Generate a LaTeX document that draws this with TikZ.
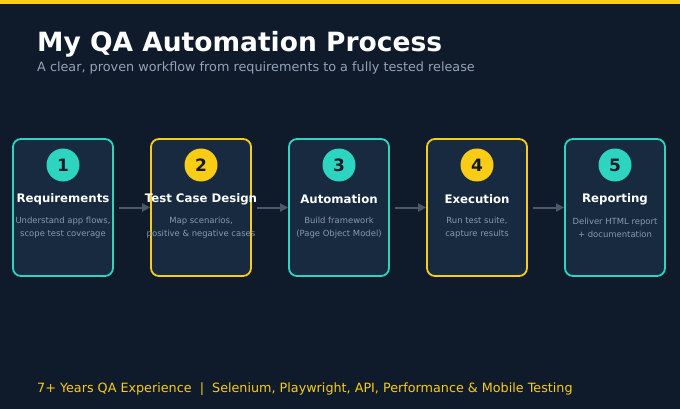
\documentclass[tikz,border=0pt]{standalone}
\usepackage{fontspec}
\setmainfont{DejaVu Sans}
\usepackage{tikz}
\usetikzlibrary{positioning,calc}
\usetikzlibrary{arrows.meta}
\definecolor{bgnavy}{HTML}{0F1B2B}
\definecolor{cardfill}{HTML}{172A40}
\definecolor{tealc}{HTML}{2DD4BF}
\definecolor{goldc}{HTML}{FACC15}
\definecolor{subgray}{HTML}{94A3B8}
\definecolor{descgray}{HTML}{8A9AAE}
\definecolor{arrgray}{HTML}{4B5A6B}
\definecolor{numdark}{HTML}{0F1B2B}
\tikzstyle{stepbox} = [rectangle, rounded corners=8pt, minimum width=100pt, minimum height=137pt, inner sep=0pt, fill=cardfill, line width=1.8pt]
\tikzstyle{badge} = [circle, minimum size=33pt, inner sep=0pt, text=numdark, font=\fontsize{17}{17}\selectfont\bfseries]
\tikzstyle{steptitle} = [text=white, font=\fontsize{11.75}{13}\selectfont\bfseries, inner sep=0pt]
\tikzstyle{stepdesc} = [text=descgray, align=center, font=\fontsize{8.45}{13}\selectfont, inner sep=0pt]
\tikzstyle{arrow} = [line width=2pt, draw=arrgray, -{Triangle[length=8pt,width=8pt]}]

\begin{document}
\begin{tikzpicture}[x=1pt,y=-1pt]
	\fill[bgnavy] (0,0) rectangle (680,409);
	\useasboundingbox (0,0) rectangle (680,409);
	\fill[goldc] (0,0) rectangle (680,4);
	\node[anchor=base west, inner sep=0pt, text=white, font=\fontsize{26.5}{30}\selectfont\bfseries] (title) at (37,52) {My QA Automation Process};
	\node[anchor=base west, inner sep=0pt, text=subgray, font=\fontsize{12.8}{15}\selectfont] (subtitle) at (37,72) {A clear, proven workflow from requirements to a fully tested release};
	% step cards
	\node (s1) at (63,207.5) [stepbox, draw=tealc] {};
	\node (s2) at (201,207.5) [stepbox, draw=goldc] {};
	\node (s3) at (339,207.5) [stepbox, draw=tealc] {};
	\node (s4) at (477,207.5) [stepbox, draw=goldc] {};
	\node (s5) at (615,207.5) [stepbox, draw=tealc] {};
	\node (n1) at (63,165) [badge, fill=tealc] {1};
	\node (n2) at (201,165) [badge, fill=goldc] {2};
	\node (n3) at (339,165) [badge, fill=tealc] {3};
	\node (n4) at (477,165) [badge, fill=goldc] {4};
	\node (n5) at (615,165) [badge, fill=tealc] {5};
	\draw[arrow] ([xshift=5pt]s1.east) -- (s2.west);
	\draw[arrow] ([xshift=5pt]s2.east) -- (s3.west);
	\draw[arrow] ([xshift=5pt]s3.east) -- (s4.west);
	\draw[arrow] ([xshift=5pt]s4.east) -- (s5.west);
	\node (t1) at (63,199) [steptitle] {Requirements};
	\node (t2) at (201,199) [steptitle] {Test Case Design};
	\node (t3) at (339,199) [steptitle] {Automation};
	\node (t4) at (477,199) [steptitle] {Execution};
	\node (t5) at (615,199) [steptitle] {Reporting};
	\node (d1) at (63,228) [stepdesc] {Understand app flows,\\scope test coverage};
	\node (d2) at (201,228) [stepdesc] {Map scenarios,\\positive \& negative cases};
	\node (d3) at (339,228) [stepdesc] {Build framework\\(Page Object Model)};
	\node (d4) at (477,228) [stepdesc] {Run test suite,\\capture results};
	\node (d5) at (615,228) [stepdesc] {Deliver HTML report\\+ documentation};
	% footer
	\node[anchor=base west, inner sep=0pt, text=goldc, font=\fontsize{12.75}{15}\selectfont] (footer) at (37,392) {7+ Years QA Experience~~|~~Selenium, Playwright, API, Performance \& Mobile Testing};
\end{tikzpicture}
\end{document}
